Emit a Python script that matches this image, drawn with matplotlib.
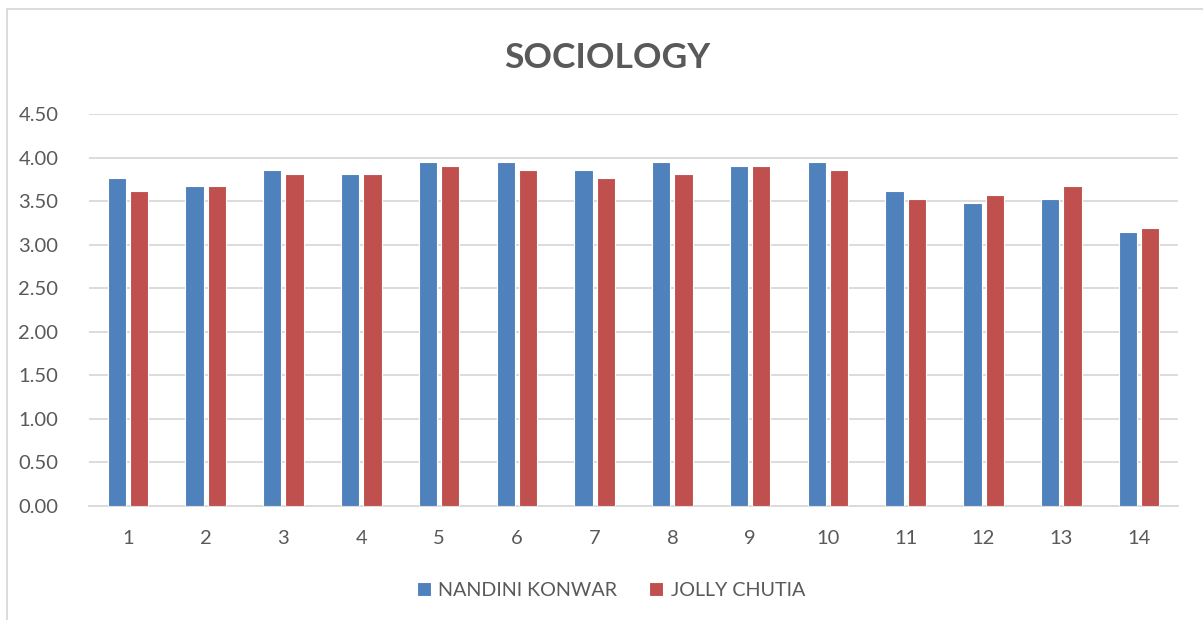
import numpy as np
import matplotlib
matplotlib.use("Agg")
from matplotlib import pyplot as plt
from matplotlib.lines import Line2D

plt.rcParams['font.family'] = ['Lato', 'DejaVu Sans']

# chart data
categories = [str(i) for i in range(1, 15)]
nandini = [3.76, 3.67, 3.86, 3.81, 3.95, 3.95, 3.86, 3.95, 3.90, 3.95, 3.62, 3.48, 3.52, 3.14]
jolly = [3.62, 3.67, 3.81, 3.81, 3.90, 3.86, 3.76, 3.81, 3.90, 3.86, 3.52, 3.57, 3.67, 3.19]
series_names = ["NANDINI KONWAR", "JOLLY CHUTIA"]
yticks = [0.0, 0.5, 1.0, 1.5, 2.0, 2.5, 3.0, 3.5, 4.0, 4.5]

blue = "#4F81BD"
red = "#C0504D"
text_col = "#595959"

fig = plt.figure(figsize=(12.03, 6.2), dpi=100)
ax = fig.add_axes([89 / 1203, 1 - 506 / 620, (1178 - 89) / 1203, (506 - 114) / 620])

x = np.arange(len(categories))
w = 0.235
off = 0.143
ax.bar(x - off, nandini, width=w, color=blue, edgecolor="white", linewidth=0.8,
       label=series_names[0], zorder=3)
ax.bar(x + off, jolly, width=w, color=red, edgecolor="white", linewidth=0.8,
       label=series_names[1], zorder=3)

ax.set_xlim(-0.5, len(categories) - 0.5)
ax.set_ylim(0, 4.5)
ax.set_yticks(yticks)
ax.set_yticklabels(["%.2f" % v for v in yticks])
ax.set_xticks(x)
ax.set_xticklabels(categories)
ax.tick_params(axis="both", length=0, colors=text_col, labelsize=14.5)
ax.tick_params(axis="y", pad=22)
ax.tick_params(axis="x", pad=17)
ax.grid(axis="y", color="#D9D9D9", linewidth=1.3, zorder=0)
for s in ["top", "right", "left"]:
    ax.spines[s].set_visible(False)
ax.spines["bottom"].set_color("#D9D9D9")
ax.spines["bottom"].set_linewidth(1.3)

fig.text(607 / 1203, 1 - 58 / 620, "SOCIOLOGY", ha="center", va="center",
         fontsize=25.5, fontweight="bold", color=text_col)

fig.legend(loc="center", bbox_to_anchor=(611 / 1203, 1 - 590 / 620), ncol=2,
           frameon=False, fontsize=14.2, labelcolor=text_col, handlelength=0.7,
           handleheight=0.7, handletextpad=0.4, columnspacing=1.6)

# outer chart border (top and left edges visible)
fig.add_artist(Line2D([7 / 1203, 7 / 1203], [0, 1 - 9 / 620], color="#D9D9D9",
                      linewidth=1.3, transform=fig.transFigure))
fig.add_artist(Line2D([7 / 1203, 1], [1 - 9 / 620, 1 - 9 / 620], color="#D9D9D9",
                      linewidth=1.3, transform=fig.transFigure))

fig.savefig("out.png", dpi=100)
